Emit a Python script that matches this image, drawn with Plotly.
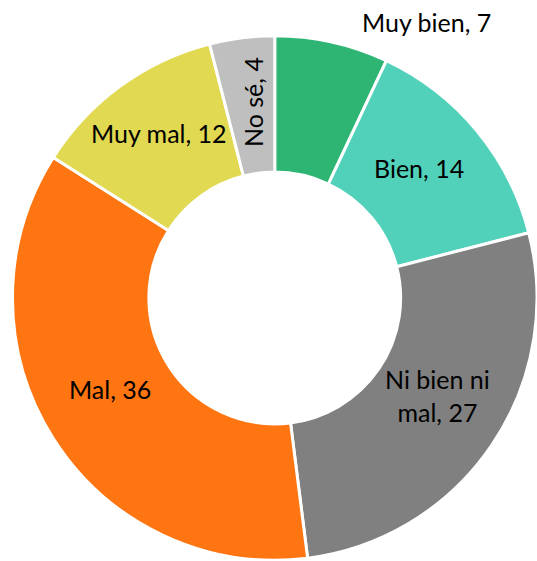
import plotly.graph_objects as go

categories = ["Muy bien", "Bien", "Ni bien ni mal", "Mal", "Muy mal", "No sé"]
values = [7, 14, 27, 36, 12, 4]
colors = ["#2EB574", "#52D1BA", "#808080", "#FE7511", "#E1D951", "#BFBFBF"]

W, H = 537, 561
CX, CY, R = 275.5, 298, 263
fig = go.Figure()
fig.add_trace(go.Pie(
    labels=categories, values=values, sort=False, direction="clockwise",
    rotation=0, hole=0.48, textinfo="none", hoverinfo="label+value",
    marker=dict(colors=colors, line=dict(color="white", width=3)),
    domain=dict(x=[(CX - R) / W, min(1.0, (CX + R) / W)],
                y=[max(0.0, (H - CY - R) / H), (H - CY + R) / H]),
    showlegend=False,
))

# label placement (pixel centres) and rotation
label_pos = [(426, 22, 0), (419, 168, 0), (437, 395, 0), (110, 389, 0), (159, 133, 0), (253, 102, -90)]
label_text = [f"{c}, {v}" for c, v in zip(categories, values)]
label_text[2] = f"Ni bien ni<br>mal, {values[2]}"
for (px, py, rot), t in zip(label_pos, label_text):
    fig.add_annotation(x=px / W, y=1 - py / H, xref="paper", yref="paper",
                       text=t, showarrow=False, textangle=rot,
                       font=dict(family="Lato", size=25, color="black"),
                       xanchor="center", yanchor="middle")

fig.update_layout(width=W, height=H, margin=dict(l=0, r=0, t=0, b=0),
                  paper_bgcolor="white", plot_bgcolor="white")
fig.write_html("out.html", config={"responsive": False, "displayModeBar": False},
               post_script="document.body.style.margin='0';document.body.style.overflow='hidden';")
